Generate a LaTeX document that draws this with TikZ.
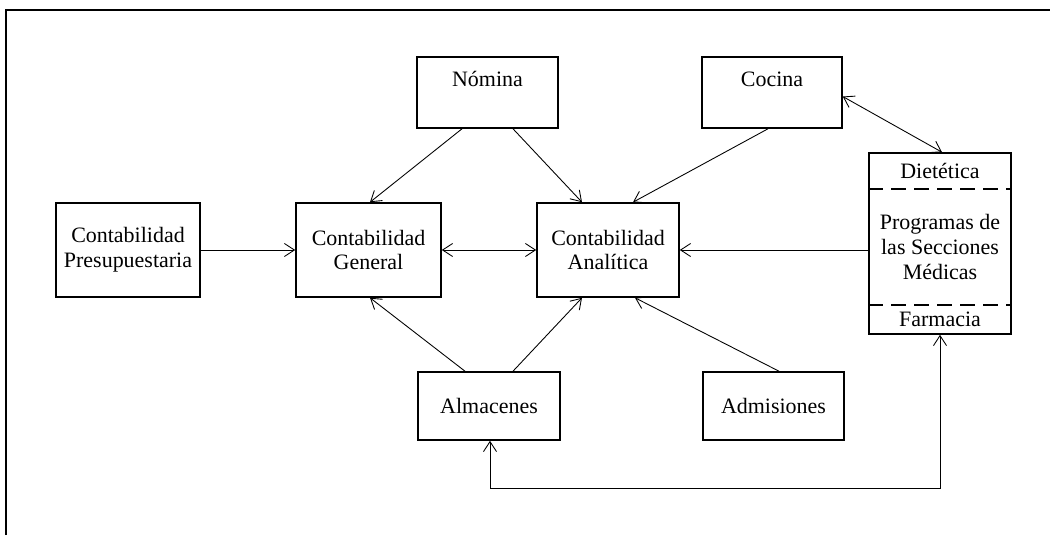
\documentclass[tikz,border=0pt]{standalone}
\usepackage{fontspec}
\setmainfont{Liberation Serif}
\usetikzlibrary{arrows.meta}

\tikzset{
  caja/.style={draw, line width=0.9pt, align=center, inner sep=2pt},
  flecha/.style={line width=0.5pt}
}

\begin{document}
\begin{tikzpicture}[>={Straight Barb[length=2mm,width=2.6mm]}, font=\fontsize{12.5}{14}\selectfont]
 \useasboundingbox (0,0) rectangle (21,10.7);
 % marco
 \draw[line width=1pt] (0.12,0) -- (0.12,10.5) -- (21,10.5);

 \node[caja, minimum width=2.88cm, minimum height=1.88cm] (pres) at (2.56,5.70) {Contabilidad\\Presupuestaria};
 \node[caja, minimum width=2.90cm, minimum height=1.88cm] (gen) at (7.37,5.70) {Contabilidad\\General};
 \node[caja, minimum width=2.84cm, minimum height=1.88cm] (ana) at (12.16,5.70) {Contabilidad\\Anal\'itica};

 \node[caja, minimum width=2.82cm, minimum height=1.42cm] (nom) at (9.75,8.85) {};
 \node (nomt) at ([yshift=-0.46cm]nom.north) {N\'omina};
 \node[caja, minimum width=2.80cm, minimum height=1.42cm] (coc) at (15.44,8.85) {};
 \node (coct) at ([yshift=-0.46cm]coc.north) {Cocina};

 \node[caja, minimum width=2.84cm, minimum height=1.36cm] (alm) at (9.78,2.58) {Almacenes};
 \node[caja, minimum width=2.82cm, minimum height=1.36cm] (adm) at (15.47,2.58) {Admisiones};

 % programas medicos
 \node[caja, minimum width=2.84cm, minimum height=3.62cm] (med) at (18.80,5.83) {};
 \draw[dash pattern=on 0.3cm off 0.16cm, line width=0.9pt] ([yshift=-0.74cm]med.north west) -- ([yshift=-0.74cm]med.north east);
 \draw[dash pattern=on 0.3cm off 0.16cm, line width=0.9pt] ([yshift=0.60cm]med.south west) -- ([yshift=0.60cm]med.south east);
 \node (diet) at ([yshift=-0.37cm]med.north) {Diet\'etica};
 \node[align=center] (prog) at (18.80,5.76) {Programas de\\las Secciones\\M\'edicas};
 \node (farm) at ([yshift=0.30cm]med.south) {Farmacia};

 \draw[flecha,->] (pres.east) -- (gen.west);
 \draw[flecha,<->] (gen.east) -- (ana.west);
 \draw[flecha,->] ([xshift=-0.51cm]nom.south) -- ([xshift=0.03cm]gen.north);
 \draw[flecha,->] ([xshift=0.51cm]nom.south) -- ([xshift=-0.52cm]ana.north);
 \draw[flecha,->] ([xshift=-0.08cm]coc.south) -- ([xshift=0.50cm]ana.north);
 \draw[flecha,<->] ([yshift=-0.08cm]coc.east) -- ([xshift=0.04cm]med.north);
 \draw[flecha,->] (med.west |- ana.east) -- (ana.east);
 \draw[flecha,->] ([xshift=-0.48cm]alm.north) -- ([xshift=0.03cm]gen.south);
 \draw[flecha,->] ([xshift=0.48cm]alm.north) -- ([xshift=-0.52cm]ana.south);
 \draw[flecha,->] ([xshift=0.11cm]adm.north) -- ([xshift=0.54cm]ana.south);

 % almacenes - farmacia
 \coordinate (fondo) at (0,0.94);
 \coordinate (almb) at ([xshift=0.02cm]alm.south);
 \coordinate (farb) at (med.south);
 \draw[flecha,<->] (almb) -- (almb |- fondo) -- (farb |- fondo) -- (farb);
\end{tikzpicture}
\end{document}
